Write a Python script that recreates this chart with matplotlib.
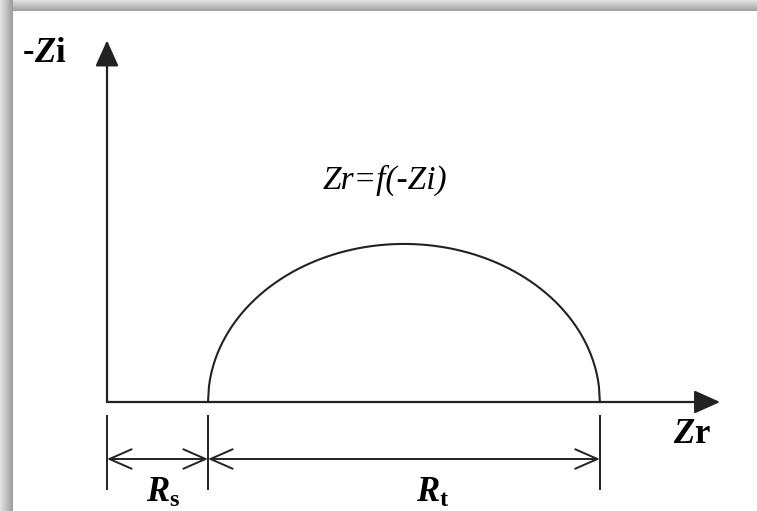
import numpy as np
import matplotlib.pyplot as plt

plt.rcParams['mathtext.fontset'] = 'custom'
plt.rcParams['mathtext.rm'] = 'Liberation Serif'
plt.rcParams['mathtext.it'] = 'Liberation Serif:italic'
plt.rcParams['mathtext.bf'] = 'Liberation Serif:bold'
plt.rcParams['mathtext.bfit'] = 'Liberation Serif:bold:italic'

# Nyquist diagram parameters (arbitrary units)
rs = 1.0        # solution resistance
rt = 3.88       # charge transfer resistance
peak = 1.565    # height of the semicircle
x_end = 6.07    # length of the Zr axis
y_end = 3.58    # length of the -Zi axis

u = 101.0  # pixels per unit
W, H = 757, 511

fig = plt.figure(figsize=(W / 100, H / 100), dpi=100)

# grey frame shadow on top and left edges
deco = fig.add_axes([0, 0, 1, 1], zorder=0)
deco.set_xlim(0, W)
deco.set_ylim(H, 0)
deco.axis('off')
top = np.linspace(0.88, 0.64, 12)[:, None] * np.ones((1, 10))
left = np.linspace(0.88, 0.62, 13)[None, :] * np.ones((10, 1))
deco.imshow(top, cmap='gray', vmin=0, vmax=1, extent=(0, W, 11, 0), aspect='auto')
deco.imshow(left, cmap='gray', vmin=0, vmax=1, extent=(0, 13, H, 0), aspect='auto')

ax = fig.add_axes([0, 0, 1, 1], zorder=1)
ax.patch.set_alpha(0)
ax.set_xlim(-107 / u, (W - 107) / u)
ax.set_ylim(-(H - 402) / u, 402 / u)
ax.axis('off')

lc = '#222222'

# axes with filled arrowheads
ax.annotate('', xy=(x_end, 0), xytext=(0, 0),
            arrowprops=dict(arrowstyle='-|>,head_length=0.4,head_width=0.18',
                            mutation_scale=40, color=lc, lw=1.6,
                            shrinkA=0, shrinkB=0))
ax.annotate('', xy=(0, y_end), xytext=(0, 0),
            arrowprops=dict(arrowstyle='-|>,head_length=0.4,head_width=0.18',
                            mutation_scale=40, color=lc, lw=1.6,
                            shrinkA=0, shrinkB=0))

# semicircle (ellipse) Zr = f(-Zi)
c = rs + rt / 2
x = np.linspace(rs, rs + rt, 400)
y = peak * np.sqrt(np.clip(1 - ((x - c) / (rt / 2)) ** 2, 0, None))
ax.plot(x, y, color=lc, lw=1.5)

# dimension lines for Rs and Rt
dim_y = -57 / u
for xt in [0, rs, rs + rt]:
    ax.plot([xt, xt], [-14 / u, -87 / u], color=lc, lw=1.4)
for a, b in [(0, rs), (rs, rs + rt)]:
    ax.annotate('', xy=(a, dim_y), xytext=(b, dim_y),
                arrowprops=dict(arrowstyle='<->,head_length=0.8,head_width=0.35',
                                mutation_scale=20, color=lc, lw=1.4,
                                shrinkA=0, shrinkB=0))


def px(xp, yp):
    return (xp - 107) / u, (402 - yp) / u


fs = 25
ax.text(*px(34, 52), '-', fontsize=fs, family='Liberation Serif',
        weight='bold', ha='right', va='center')
ax.text(*px(34, 52), r'$\mathbfit{Z}\mathbf{i}$', fontsize=fs,
        ha='left', va='center')
ax.text(*px(692, 433), r'$\mathbfit{Z}\mathbf{r}$', fontsize=fs,
        ha='center', va='center')
ax.text(*px(385, 180), 'Zr=f(-Zi)', fontsize=24, family='Liberation Serif',
        style='italic', ha='center', va='center')
ax.text(*px(163, 492), r'$\mathbfit{R}_{\mathbf{s}}$', fontsize=fs,
        ha='center', va='center')
ax.text(*px(433, 492), r'$\mathbfit{R}_{\mathbf{t}}$', fontsize=fs,
        ha='center', va='center')

fig.savefig('out.png', dpi=100)
